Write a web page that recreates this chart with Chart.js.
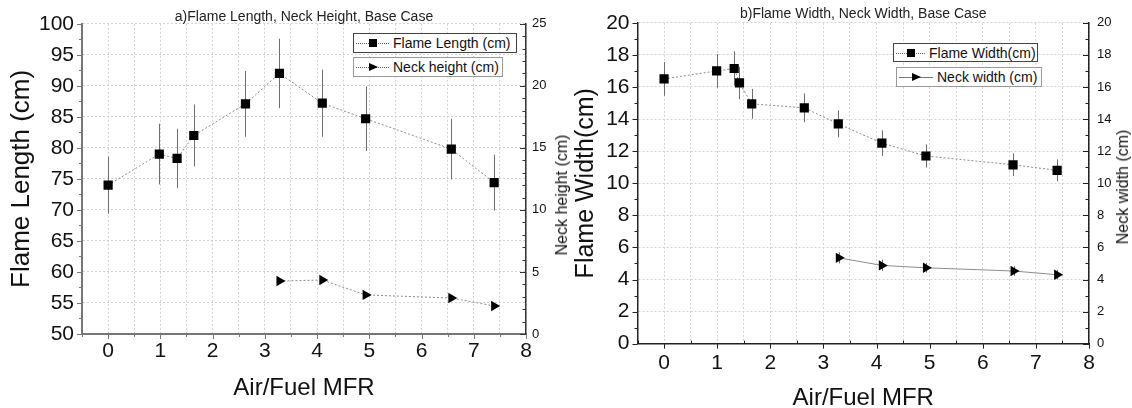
<!DOCTYPE html>
<html>
<head>
<meta charset="utf-8">
<script src="https://cdn.jsdelivr.net/npm/chart.js@4/dist/chart.umd.min.js"></script>
<style>
  body { margin: 0; width: 1132px; height: 408px; overflow: hidden; background: #fff;
         font-family: "Liberation Sans", Arial, sans-serif; }
  canvas { position: absolute; top: 0; }
  .leg { position: absolute; background: #fff; box-sizing: border-box; font-size: 14px; color: #111;
         display: flex; align-items: center; white-space: nowrap; }
  .dark { border: 1.5px solid #444; }
  .light { border: 1px solid #999; }
  .smp { position: relative; display: inline-block; height: 10px; margin: 0 4px 0 2px; }
  .smp .ln { position: absolute; left: 0; right: 0; top: 5px; border-top: 1px dotted #666; }
  .smp .ln.solid { border-top-style: solid; border-color: #777; }
  .sq { position: absolute; left: 50%; top: 1px; width: 8px; height: 8px; margin-left: -4px; background: #000; }
  .tri { position: absolute; left: 50%; top: 1px; margin-left: -4px; width: 0; height: 0;
         border-left: 9px solid #000; border-top: 4.5px solid transparent; border-bottom: 4.5px solid transparent; }
  .rtitle { position: absolute; font-size: 16px; color: #111; white-space: nowrap;
            transform: translate(-50%, -50%) rotate(-90deg); }
</style>
</head>
<body>
<canvas id="chartA" width="568" height="408" style="left:0"></canvas>
<canvas id="chartB" width="564" height="408" style="left:568px"></canvas>

<div class="rtitle" style="left:562px;top:195px">Neck height (cm)</div>
<div class="rtitle" style="left:1123px;top:187px">Neck width (cm)</div>

<div class="leg dark" style="left:353px;top:33px;width:164px;height:20px">
  <span class="smp" style="width:33px"><span class="ln"></span><span class="sq"></span></span>Flame Length (cm)
</div>
<div class="leg light" style="left:353px;top:57px;width:150px;height:20px">
  <span class="smp" style="width:33px"><span class="ln"></span><span class="tri"></span></span>Neck height (cm)
</div>
<div class="leg dark" style="left:893px;top:43px;width:145px;height:19px">
  <span class="smp" style="width:29px"><span class="ln"></span><span class="sq"></span></span>Flame Width(cm)
</div>
<div class="leg light" style="left:896px;top:67px;width:146px;height:20px">
  <span class="smp" style="width:34px"><span class="ln solid"></span><span class="tri"></span></span>Neck width (cm)
</div>

<script>
// a) flame length / neck height
const mfrLength = [0, 0.98, 1.32, 1.64, 2.63, 3.28, 4.1, 4.93, 6.57, 7.39];
const flameLength = [74.0, 79.0, 78.3, 82.0, 87.1, 92.0, 87.2, 84.7, 79.8, 74.4];
const flameLengthErr = [4.6, 4.9, 4.8, 5.0, 5.3, 5.6, 5.4, 5.2, 4.9, 4.5];
const mfrNeckHeight = [3.28, 4.1, 4.93, 6.57, 7.39];
const neckHeight = [4.27, 4.35, 3.15, 2.9, 2.26];

// b) flame width / neck width
const mfrWidth = [0, 0.99, 1.32, 1.42, 1.65, 2.64, 3.28, 4.1, 4.93, 6.57, 7.4];
const flameWidth = [16.5, 17.0, 17.15, 16.25, 14.95, 14.7, 13.7, 12.5, 11.7, 11.15, 10.8];
const flameWidthErr = [1.05, 1.05, 1.07, 1.0, 0.93, 0.9, 0.83, 0.8, 0.72, 0.7, 0.68];
const mfrNeckWidth = [3.29, 4.1, 4.93, 6.58, 7.4];
const neckWidth = [5.35, 4.88, 4.73, 4.53, 4.3];
const neckWidthErr = [0.35, 0.35, 0.3, 0.3, 0.3];

const toPoints = (xs, ys) => xs.map((x, i) => ({ x: x, y: ys[i] }));
const FONT = "'Liberation Sans', Arial, sans-serif";

// vertical error bars, drawn under the markers
const errorBars = {
  id: "errorBars",
  beforeDatasetsDraw(chart) {
    const ctx = chart.ctx;
    chart.data.datasets.forEach((ds, i) => {
      if (!ds.errors) return;
      const meta = chart.getDatasetMeta(i);
      const yScale = chart.scales[ds.yAxisID];
      ctx.save();
      ctx.strokeStyle = "#6e6e6e";
      ctx.lineWidth = 1;
      meta.data.forEach((pt, j) => {
        const v = ds.data[j].y;
        const e = ds.errors[j];
        const x = Math.round(pt.x) + 0.5;
        ctx.beginPath();
        ctx.moveTo(x, yScale.getPixelForValue(v + e));
        ctx.lineTo(x, yScale.getPixelForValue(v - e));
        ctx.stroke();
      });
      ctx.restore();
    });
  },
};

// major / minor tick marks, in or out like the original plot
const tickMarks = {
  id: "tickMarks",
  afterDraw(chart, args, opts) {
    const ctx = chart.ctx;
    opts.axes.forEach((a) => {
      const s = chart.scales[a.id];
      ctx.save();
      ctx.strokeStyle = a.color;
      ctx.lineWidth = 1;
      ctx.beginPath();
      for (let v = s.min; v <= s.max + 1e-9; v += a.minor) {
        const r = v / a.major;
        const major = Math.abs(r - Math.round(r)) < 1e-6;
        const len = major ? a.majorLen : a.minorLen;
        const dir = major ? a.majorDir : a.minorDir;
        const p = Math.round(s.getPixelForValue(v)) + 0.5;
        if (s.isHorizontal()) {
          ctx.moveTo(p, s.top);
          ctx.lineTo(p, s.top + dir * len);
        } else {
          const x0 = s.position === "left" ? s.right : s.left;
          ctx.moveTo(x0, p);
          ctx.lineTo(x0 + dir * len, p);
        }
      }
      ctx.stroke();
      ctx.restore();
    });
  },
};

const makeChart = (id, cfg) => {
  new Chart(document.getElementById(id), {
    type: "scatter",
    data: {
      datasets: [
        {
          label: cfg.flameLabel,
          data: toPoints(cfg.flameX, cfg.flameY),
          errors: cfg.flameErr,
          yAxisID: "y",
          showLine: true,
          borderColor: "#8c8c8c",
          borderWidth: 1,
          borderDash: [2, 2],
          pointStyle: "rect",
          pointRadius: 6.5,
          pointBackgroundColor: "#000",
          pointBorderColor: "#000",
          pointBorderWidth: 0,
        },
        {
          label: cfg.neckLabel,
          data: toPoints(cfg.neckX, cfg.neckY),
          errors: cfg.neckErr,
          yAxisID: "y2",
          showLine: true,
          borderColor: "#8c8c8c",
          borderWidth: 1,
          borderDash: cfg.neckDash,
          pointStyle: "triangle",
          pointRotation: 90,
          pointRadius: 6,
          pointBackgroundColor: "#000",
          pointBorderColor: "#000",
          pointBorderWidth: 0,
        },
      ],
    },
    options: {
      responsive: false,
      animation: false,
      events: [],
      layout: { padding: 0 },
      plugins: {
        legend: { display: false },
        tooltip: { enabled: false },
        title: {
          display: true,
          text: cfg.title,
          fullSize: false,
          color: "#222",
          font: { family: FONT, size: 14, weight: "normal" },
          padding: cfg.titlePad,
        },
        tickMarks: {
          axes: [
            { id: "x", major: 1, minor: 0.5, majorLen: 5, minorLen: 3, majorDir: 1, minorDir: cfg.xMinorDir, color: cfg.axisColor },
            { id: "y", major: cfg.yStep, minor: cfg.yStep / 2, majorLen: 5, minorLen: 3, majorDir: -1, minorDir: -1, color: cfg.axisColor },
            { id: "y2", major: cfg.y2Step, minor: cfg.y2Minor, majorLen: 6, minorLen: 3.5, majorDir: -1, minorDir: -1, color: cfg.rightColor },
          ],
        },
      },
      scales: {
        x: {
          type: "linear",
          min: -0.5,
          max: 8,
          afterFit: (s) => { s.height = cfg.xHeight; },
          ticks: {
            stepSize: 0.5,
            autoSkip: false,
            maxRotation: 0,
            padding: cfg.xTickPad,
            color: "#111",
            font: { family: FONT, size: 21 },
            callback: (v) => (Number.isInteger(v) ? v : ""),
          },
          grid: { color: "#d2d2d2", lineWidth: 1, drawTicks: false },
          border: { color: cfg.axisColor, width: cfg.axisWidth, dash: [2, 2] },
          title: {
            display: true,
            text: "Air/Fuel MFR",
            color: "#111",
            font: { family: FONT, size: 24 },
            padding: { top: 0, bottom: cfg.xTitlePad },
          },
        },
        y: {
          position: "left",
          min: cfg.yMin,
          max: cfg.yMax,
          afterFit: (s) => { s.width = cfg.yWidth; },
          ticks: { stepSize: cfg.yStep, padding: 8, color: "#111", font: { family: FONT, size: 21 } },
          grid: { color: "#d2d2d2", lineWidth: 1, drawTicks: false },
          border: { color: cfg.axisColor, width: cfg.axisWidth, dash: [2, 2] },
          title: {
            display: true,
            text: cfg.yTitle,
            color: "#111",
            font: { family: FONT, size: cfg.yTitleSize },
            padding: { top: cfg.yTitlePad },
          },
        },
        y2: {
          position: "right",
          min: 0,
          max: cfg.y2Max,
          afterFit: (s) => { s.width = cfg.y2Width; },
          ticks: { stepSize: cfg.y2Step, padding: cfg.y2TickPad, color: "#111", font: { family: FONT, size: 13 } },
          grid: { drawOnChartArea: false, drawTicks: false },
          border: { color: cfg.rightColor, width: 1.5 },
        },
      },
    },
    plugins: [errorBars, tickMarks],
  });
};

makeChart("chartA", {
  title: "a)Flame Length, Neck Height, Base Case",
  titlePad: { top: 9, bottom: -2 },
  flameLabel: "Flame Length (cm)",
  flameX: mfrLength, flameY: flameLength, flameErr: flameLengthErr,
  neckLabel: "Neck height (cm)",
  neckX: mfrNeckHeight, neckY: neckHeight, neckErr: null, neckDash: [2, 2],
  yMin: 50, yMax: 100, yStep: 5, yWidth: 82,
  yTitle: "Flame Length (cm)", yTitleSize: 26, yTitlePad: 6,
  y2Max: 25, y2Step: 5, y2Minor: 1, y2Width: 42, y2TickPad: 6,
  xHeight: 74, xTickPad: 5, xTitlePad: 5.6, xMinorDir: 1,
  axisColor: "#777", axisWidth: 2, rightColor: "#333",
});

makeChart("chartB", {
  title: "b)Flame Width, Neck Width, Base Case",
  titlePad: { top: 6, bottom: 0 },
  flameLabel: "Flame Width(cm)",
  flameX: mfrWidth, flameY: flameWidth, flameErr: flameWidthErr,
  neckLabel: "Neck width (cm)",
  neckX: mfrNeckWidth, neckY: neckWidth, neckErr: neckWidthErr, neckDash: [],
  yMin: 0, yMax: 20, yStep: 2, yWidth: 69.5,
  yTitle: "Flame Width(cm)", yTitleSize: 25, yTitlePad: 3,
  y2Max: 20, y2Step: 2, y2Minor: 1, y2Width: 43, y2TickPad: 8,
  xHeight: 64.3, xTickPad: 7, xTitlePad: -4.4, xMinorDir: -1,
  axisColor: "#222", axisWidth: 1.5, rightColor: "#222",
});
</script>
</body>
</html>
